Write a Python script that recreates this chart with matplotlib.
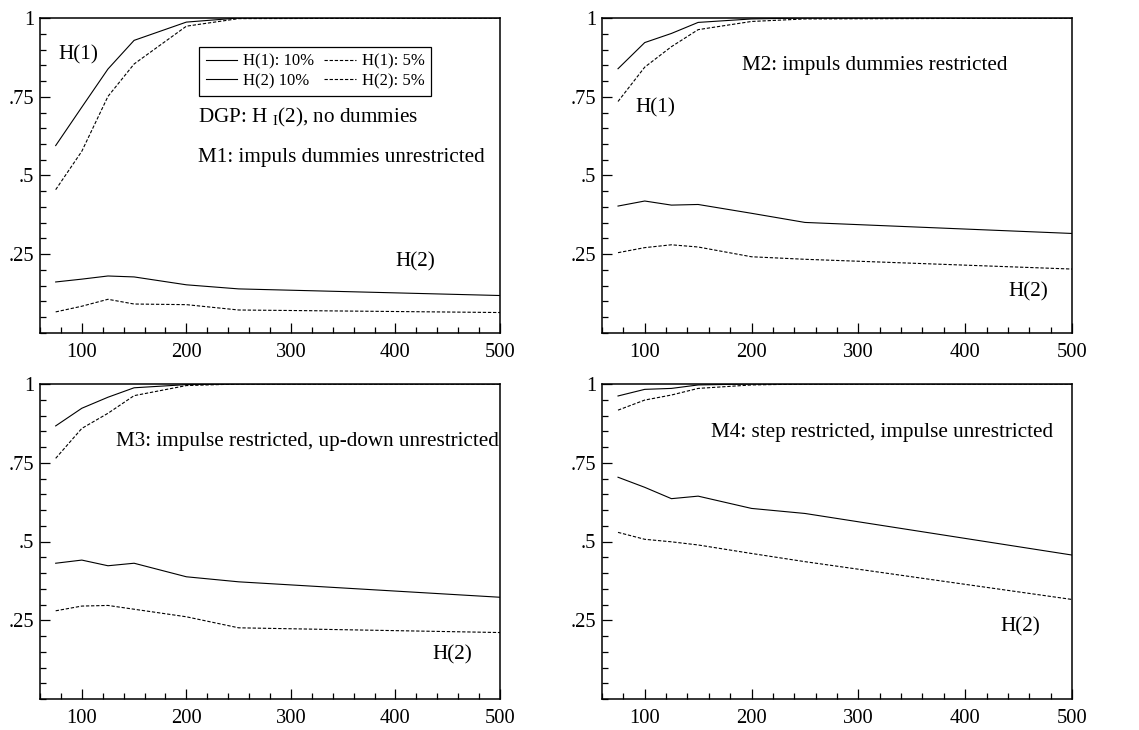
import matplotlib.pyplot as plt
from matplotlib.ticker import MultipleLocator, FixedLocator, FixedFormatter

plt.rcParams['font.family'] = ['Liberation Serif', 'DejaVu Serif']
plt.rcParams['mathtext.fontset'] = 'custom'
plt.rcParams['mathtext.rm'] = 'Liberation Serif'

# sample sizes
sample_sizes = [75, 100, 125, 150, 200, 250, 500]

# M1: impuls dummies unrestricted
m1_h1_10 = [0.595, 0.717, 0.838, 0.929, 0.987, 1.0, 1.0]
m1_h1_5 = [0.455, 0.577, 0.751, 0.854, 0.974, 0.998, 1.0]
m1_h2_10 = [0.162, 0.171, 0.181, 0.178, 0.153, 0.140, 0.119]
m1_h2_5 = [0.067, 0.085, 0.107, 0.092, 0.090, 0.073, 0.065]

# M2: impuls dummies restricted
m2_h1_10 = [0.839, 0.922, 0.951, 0.986, 0.997, 1.0, 1.0]
m2_h1_5 = [0.735, 0.844, 0.909, 0.963, 0.989, 0.997, 1.0]
m2_h2_10 = [0.403, 0.419, 0.406, 0.408, 0.380, 0.351, 0.316]
m2_h2_5 = [0.255, 0.271, 0.280, 0.273, 0.242, 0.234, 0.203]

# M3: impulse restricted, up-down unrestricted
m3_h1_10 = [0.867, 0.923, 0.958, 0.988, 0.998, 1.0, 1.0]
m3_h1_5 = [0.764, 0.859, 0.907, 0.963, 0.995, 1.0, 1.0]
m3_h2_10 = [0.431, 0.441, 0.423, 0.431, 0.388, 0.372, 0.323]
m3_h2_5 = [0.280, 0.295, 0.297, 0.285, 0.261, 0.226, 0.211]

# M4: step restricted, impulse unrestricted
m4_h1_10 = [0.962, 0.983, 0.986, 0.997, 1.0, 1.0, 1.0]
m4_h1_5 = [0.917, 0.949, 0.965, 0.986, 0.997, 1.0, 1.0]
m4_h2_10 = [0.704, 0.672, 0.636, 0.644, 0.605, 0.589, 0.457]
m4_h2_5 = [0.529, 0.507, 0.499, 0.489, 0.462, 0.436, 0.316]

y_ticks = [0.25, 0.5, 0.75, 1.0]
y_tick_labels = ['.25', '.5', '.75', '1']
x_ticks = [100, 200, 300, 400, 500]

dash = (0, (3.0, 1.6))
line_kw = dict(color='black', linewidth=0.8)

fig = plt.figure(figsize=(11.39, 7.30), dpi=100)
W, H = 1139.0, 730.0

def make_axes(left, right, top, bottom):
    return fig.add_axes([left / W, 1 - bottom / H, (right - left) / W, (bottom - top) / H])

axes = [
    make_axes(40, 500, 18, 333),
    make_axes(602, 1072, 18, 333),
    make_axes(40, 500, 384, 699),
    make_axes(602, 1072, 384, 699),
]

panels = [
    (m1_h1_10, m1_h1_5, m1_h2_10, m1_h2_5),
    (m2_h1_10, m2_h1_5, m2_h2_10, m2_h2_5),
    (m3_h1_10, m3_h1_5, m3_h2_10, m3_h2_5),
    (m4_h1_10, m4_h1_5, m4_h2_10, m4_h2_5),
]

for ax, (h1_10, h1_5, h2_10, h2_5) in zip(axes, panels):
    l1, = ax.plot(sample_sizes, h1_10, linestyle='-', **line_kw)
    l2, = ax.plot(sample_sizes, h1_5, linestyle=dash, **line_kw)
    l3, = ax.plot(sample_sizes, h2_10, linestyle='-', **line_kw)
    l4, = ax.plot(sample_sizes, h2_5, linestyle=dash, **line_kw)
    ax.set_xlim(60, 500)
    ax.set_ylim(0, 1.0)
    ax.xaxis.set_major_locator(FixedLocator(x_ticks))
    ax.xaxis.set_minor_locator(MultipleLocator(20))
    ax.yaxis.set_major_locator(FixedLocator(y_ticks))
    ax.yaxis.set_major_formatter(FixedFormatter(y_tick_labels))
    ax.yaxis.set_minor_locator(MultipleLocator(0.05))
    ax.tick_params(which='both', direction='in', top=False, right=False,
                   labelsize=14.8, width=0.9)
    ax.tick_params(which='major', length=7)
    ax.tick_params(which='minor', length=4)
    ax.tick_params(axis='x', pad=7)
    ax.tick_params(axis='y', pad=4)
    for sp in ax.spines.values():
        sp.set_linewidth(1.1)

txt = dict(fontsize=15.2, va='center', ha='left')

ax = axes[0]
leg = ax.legend([l1, l3, l2, l4], ['H(1): 10%', 'H(2) 10%', 'H(1): 5%', 'H(2): 5%'],
                ncol=2, loc='upper left', bbox_to_anchor=(0.346, 0.908),
                fontsize=12, frameon=True, fancybox=False, framealpha=1,
                edgecolor='black', handlelength=1.9, handletextpad=0.35,
                columnspacing=0.6, borderpad=0.4, labelspacing=0.2,
                borderaxespad=0)
leg.get_frame().set_linewidth(0.9)
ax.text(78, 0.883, 'H(1)', **txt)
ax.text(211, 0.683, r'DGP: H $_{\mathrm{I}}$(2), no dummies', **txt)
ax.text(211, 0.556, 'M1: impuls dummies unrestricted', **txt)
ax.text(400, 0.225, 'H(2)', **txt)

ax = axes[1]
ax.text(191, 0.848, 'M2: impuls dummies restricted', **txt)
ax.text(91.5, 0.715, 'H(1)', **txt)
ax.text(440, 0.13, 'H(2)', **txt)

ax = axes[2]
ax.text(133, 0.816, 'M3: impulse restricted, up-down unrestricted', **txt)
ax.text(435, 0.14, 'H(2)', **txt)

ax = axes[3]
ax.text(162, 0.845, 'M4: step restricted, impulse unrestricted', **txt)
ax.text(433, 0.229, 'H(2)', **txt)

fig.savefig('out.png', dpi=100)
